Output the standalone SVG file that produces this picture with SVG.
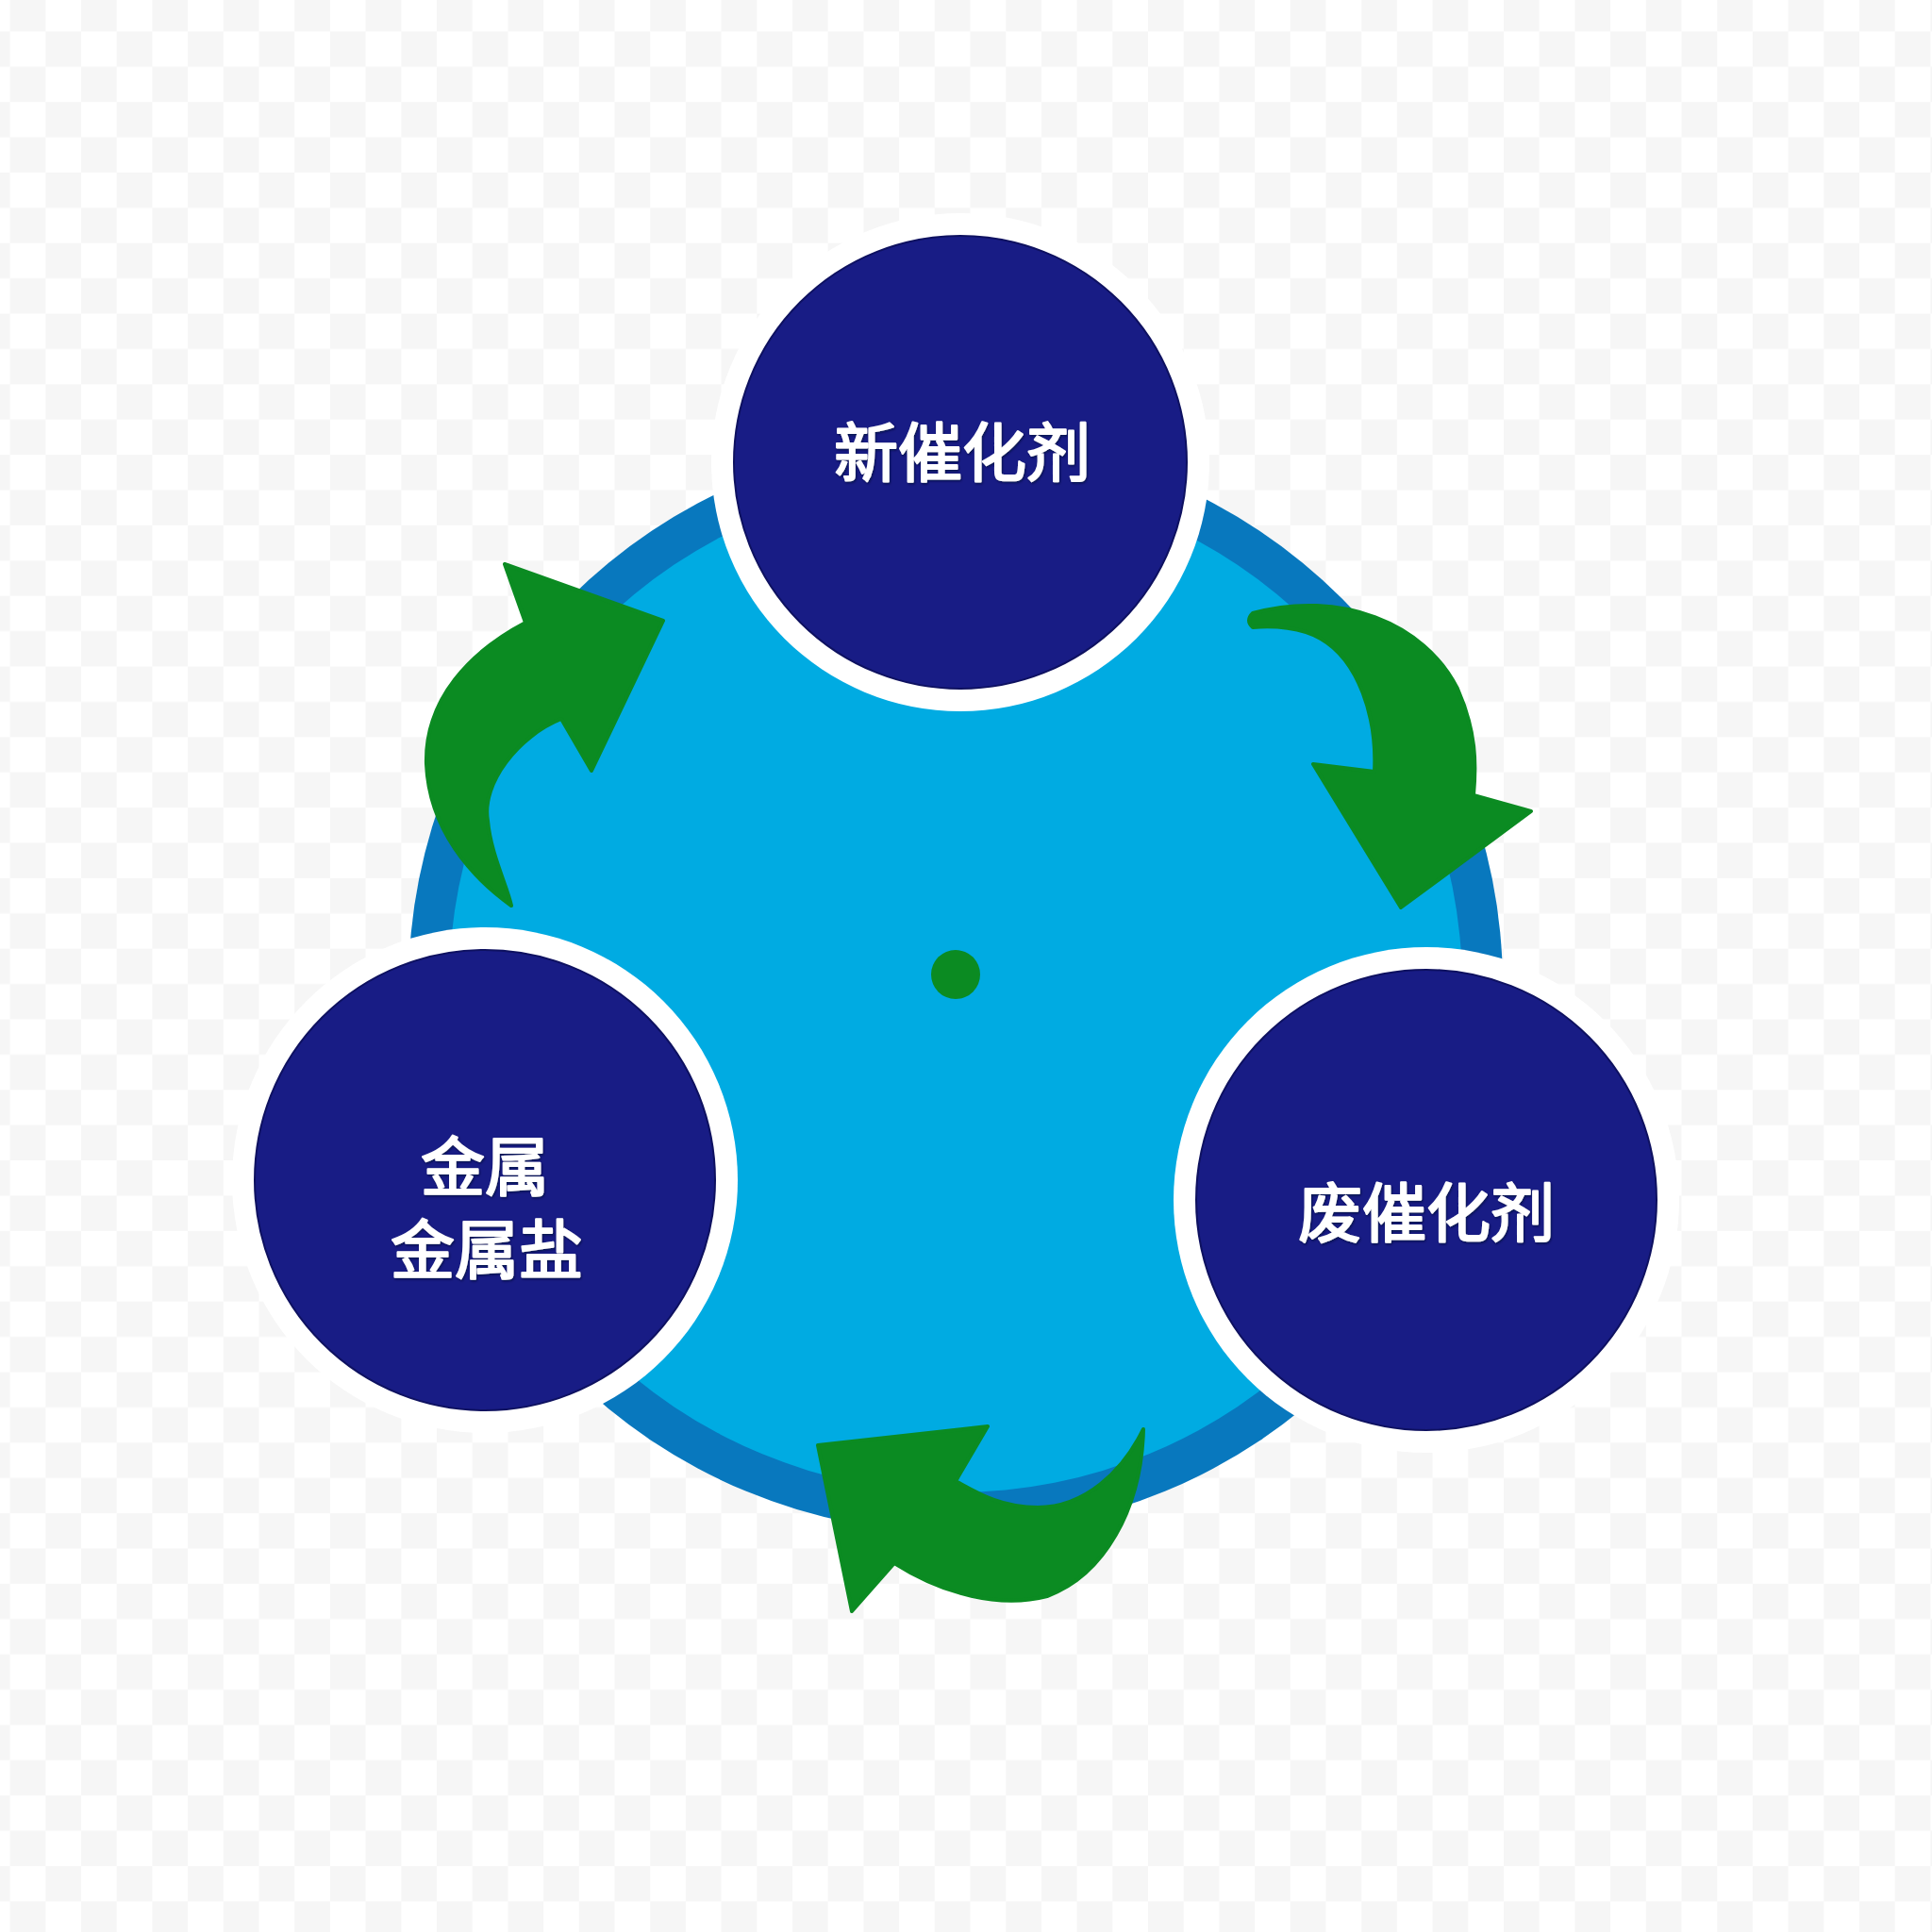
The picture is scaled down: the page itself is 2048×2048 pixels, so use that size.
<svg xmlns="http://www.w3.org/2000/svg" width="2048" height="2048" viewBox="0 0 2048 2048">
  <defs>
    <pattern id="checker" x="48.3" y="33.3" width="75.4" height="74.8" patternUnits="userSpaceOnUse">
      <rect x="0" y="0" width="37.7" height="37.4" fill="#F6F6F6"/>
      <rect x="37.7" y="37.4" width="37.7" height="37.4" fill="#F6F6F6"/>
    </pattern>
    <filter id="txtShadow" x="-10%" y="-20%" width="120%" height="140%">
      <feDropShadow dx="1" dy="1.5" stdDeviation="1.2" flood-color="#050830" flood-opacity="0.7"/>
    </filter>
  </defs>
  <style>
    .ring { fill: #FFFFFF; }
    .node { fill: #181C85; stroke: #0E1160; stroke-width: 2; }
    .label { font-family: "Liberation Sans", "Noto Sans CJK SC", sans-serif; font-size: 68px; font-weight: 400; fill: #FFFFFF; stroke: #FFFFFF; stroke-width: 2.2; stroke-linejoin: round; text-anchor: middle; dominant-baseline: central; filter: url(#txtShadow); }
    .arrow { fill: #0B8B22; stroke: #0B8B22; stroke-width: 4; stroke-linejoin: round; }
  </style>

  <rect x="0" y="0" width="2048" height="2048" fill="#FFFFFF"/>
  <rect x="0" y="0" width="2048" height="2048" fill="url(#checker)"/>

  <g id="cycle-disc">
    <circle cx="1013" cy="1045" r="580" fill="#0878BE"/>
    <circle cx="1013" cy="1045" r="537" fill="#00ABE2"/>
    <circle id="center-dot" cx="1013" cy="1033" r="26" fill="#0B8B22"/>
  </g>

  <g id="connectors">
    <path id="arrow-metal-to-new" class="arrow" d="M 557,660 L 535,598 L 703,658 L 627,817 L 595,762 C 550,780 510,830 517,870 C 520,905 538,940 542,960 C 500,930 455,880 452,810 C 450,740 500,690 557,660 Z"/>
    <path id="arrow-new-to-waste" class="arrow" d="M 1328,650 C 1420,625 1510,660 1545,730 C 1565,775 1565,810 1562,843 L 1623,860 L 1485,962 L 1392,810 L 1457,818 C 1460,760 1440,700 1400,677 C 1380,665 1350,663 1328,665 Q 1320,658 1328,650 Z"/>
    <path id="arrow-waste-to-metal" class="arrow" d="M 1013,1570 L 1047,1512 L 867,1532 L 903,1708 L 948,1657 C 1000,1690 1060,1705 1110,1692 C 1170,1670 1210,1600 1212,1515 C 1190,1560 1150,1598 1100,1598 C 1060,1598 1035,1582 1013,1570 Z"/>
  </g>

  <g id="node-new-catalyst">
    <circle class="ring" cx="1018" cy="490" r="264"/>
    <circle class="node" cx="1018" cy="490" r="240"/>
    <text class="label" x="1020" y="481">新催化剂</text>
  </g>

  <g id="node-waste-catalyst">
    <circle class="ring" cx="1512" cy="1272" r="268"/>
    <circle class="node" cx="1512" cy="1272" r="244"/>
    <text class="label" x="1512" y="1287">废催化剂</text>
  </g>

  <g id="node-metal">
    <circle class="ring" cx="514" cy="1251" r="268"/>
    <circle class="node" cx="514" cy="1251" r="244"/>
    <text class="label" x="514" y="1238"><tspan x="514" y="1238">金属</tspan><tspan x="516" y="1326">金属盐</tspan></text>
  </g>
</svg>
